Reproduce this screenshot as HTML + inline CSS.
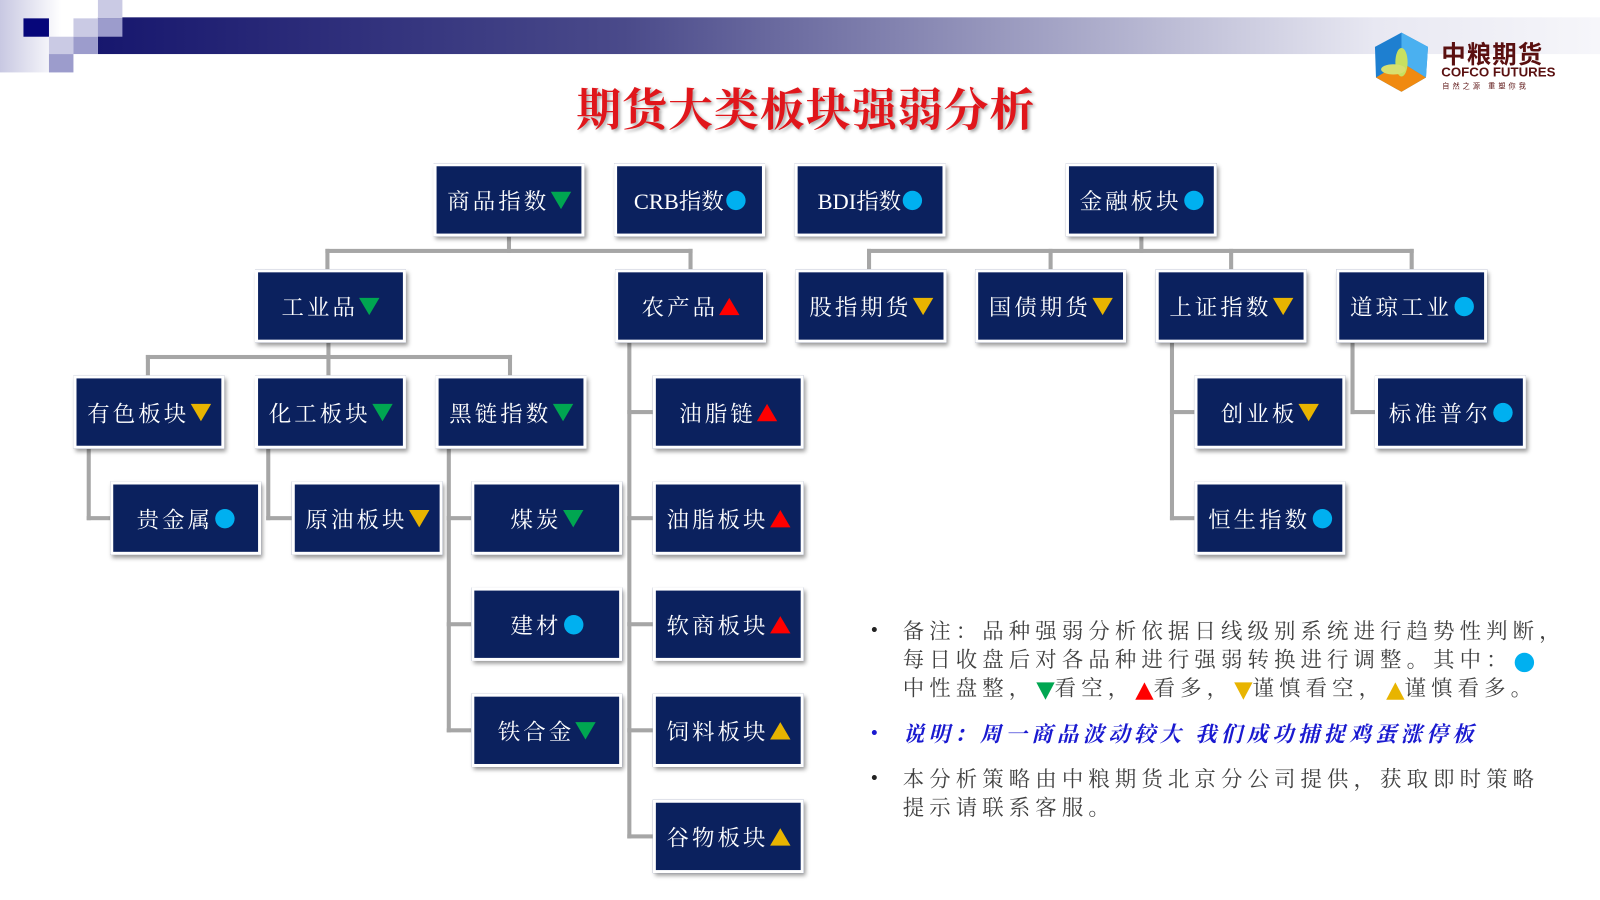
<!DOCTYPE html>
<html><head><meta charset="utf-8"><style>
body{margin:0;width:1600px;height:900px;background:#fff;position:relative;overflow:hidden;font-family:"Liberation Sans","Noto Sans CJK SC",sans-serif}
#w{position:absolute;left:0;top:0;width:1569px;height:882px;transform:scale(1.02);transform-origin:0 0}
.b{position:absolute;width:142px;height:66px;background:#0b215e;border:3px solid #fff;box-shadow:2px 3px 4px rgba(0,0,0,.4);color:#fff;font-family:"Liberation Serif","Noto Serif CJK SC",serif;font-size:22px;letter-spacing:3px;display:flex;align-items:center;justify-content:center;white-space:nowrap}
.l{position:absolute;background:#a6a6a6}
.dg,.dy,.ur,.uy{display:inline-block;width:0;height:0;border-left:10px solid transparent;border-right:10px solid transparent;margin-left:1px;vertical-align:middle}
.dg{border-top:17px solid #00a651}.dy{border-top:17px solid #e8b400}
.ur{border-bottom:17px solid #ff0000}.uy{border-bottom:17px solid #e8b400}
.c{display:inline-block;width:19px;height:19px;border-radius:50%;background:#00b0f0;margin-left:2px;vertical-align:middle}
.t{position:absolute;left:885px;font-size:21px;letter-spacing:5px;color:#404040;white-space:nowrap;line-height:28px;font-family:"Liberation Serif","Noto Serif CJK SC",serif}
.dot{position:absolute;left:854px;font-size:18px;color:#222}
.t .dg,.t .dy,.t .ur,.t .uy{border-left-width:9px;border-right-width:9px}
</style></head><body><div id="w">
<div style="position:absolute;left:0;top:0;width:60px;height:71px;background:linear-gradient(90deg,#c8c8e2,#fff)"></div>
<div style="position:absolute;left:96px;top:17px;width:1473px;height:36px;background:linear-gradient(90deg,#17176e 0%,#4a4a8a 35%,#a8a8c8 65%,#e8e8f2 85%,#f6f6fa 100%)"></div>
<div style="position:absolute;left:23px;top:18px;width:25px;height:18px;background:#06067a"></div>
<div style="position:absolute;left:96px;top:0;width:24px;height:18px;background:#cacae4"></div>
<div style="position:absolute;left:72px;top:18px;width:24px;height:18px;background:#cacae4"></div>
<div style="position:absolute;left:96px;top:18px;width:24px;height:18px;background:#9c9ccc"></div>
<div style="position:absolute;left:48px;top:36px;width:24px;height:17px;background:#cacae4"></div>
<div style="position:absolute;left:72px;top:36px;width:24px;height:17px;background:#9c9ccc"></div>
<div style="position:absolute;left:48px;top:53px;width:24px;height:18px;background:#9c9ccc"></div>
<svg style="position:absolute;left:1344px;top:30px" width="60" height="62" viewBox="0 0 60 62"><polygon points="30,2 56,16 54,46 30,60 5,46 4,16" fill="#1e7fd0"/><polygon points="30,31 54,46 30,60 5,46" fill="#f08a10"/><polygon points="30,31 30,2 56,16 54,46" fill="#4ab0f0"/><ellipse cx="30" cy="31" rx="6" ry="14" fill="#c8e060"/><ellipse cx="22" cy="38" rx="12" ry="5" fill="#d8e070"/></svg>
<div style="position:absolute;left:1413px;top:34px;font-size:24px;font-weight:bold;color:#5a1010;letter-spacing:1px">中粮期货</div>
<div style="position:absolute;left:1413px;top:63px;font-size:13px;font-weight:bold;color:#5a1010">COFCO FUTURES</div>
<div style="position:absolute;left:1414px;top:80px;font-size:7px;color:#5a1010;letter-spacing:3px">自然之源 重塑你我</div>
<div style="position:absolute;left:555px;top:72px;width:470px;text-align:center;font-size:44px;font-weight:bold;color:#e0161b;letter-spacing:1px;text-shadow:2px 2px 3px rgba(0,0,0,.35);font-family:'Liberation Serif','Noto Serif CJK SC',serif">期货大类板块强弱分析</div>

<div class="l" style="left:497px;top:232px;width:4px;height:16px"></div>
<div class="l" style="left:319px;top:244px;width:360px;height:4px"></div>
<div class="l" style="left:319px;top:244px;width:4px;height:20px"></div>
<div class="l" style="left:675px;top:244px;width:4px;height:20px"></div>
<div class="l" style="left:1117px;top:232px;width:4px;height:16px"></div>
<div class="l" style="left:850px;top:244px;width:536px;height:4px"></div>
<div class="l" style="left:850px;top:244px;width:4px;height:20px"></div>
<div class="l" style="left:1028px;top:244px;width:4px;height:20px"></div>
<div class="l" style="left:1205px;top:244px;width:4px;height:20px"></div>
<div class="l" style="left:1382px;top:244px;width:4px;height:20px"></div>
<div class="l" style="left:320px;top:336px;width:4px;height:16px"></div>
<div class="l" style="left:143px;top:348px;width:359px;height:4px"></div>
<div class="l" style="left:143px;top:348px;width:4px;height:20px"></div>
<div class="l" style="left:320px;top:348px;width:4px;height:20px"></div>
<div class="l" style="left:498px;top:348px;width:4px;height:20px"></div>
<div class="l" style="left:615px;top:336px;width:4px;height:486px"></div>
<div class="l" style="left:615px;top:402px;width:25px;height:4px"></div>
<div class="l" style="left:615px;top:506px;width:25px;height:4px"></div>
<div class="l" style="left:615px;top:610px;width:25px;height:4px"></div>
<div class="l" style="left:615px;top:714px;width:25px;height:4px"></div>
<div class="l" style="left:615px;top:818px;width:25px;height:4px"></div>
<div class="l" style="left:438px;top:440px;width:4px;height:278px"></div>
<div class="l" style="left:438px;top:506px;width:24px;height:4px"></div>
<div class="l" style="left:438px;top:610px;width:24px;height:4px"></div>
<div class="l" style="left:438px;top:714px;width:24px;height:4px"></div>
<div class="l" style="left:85px;top:440px;width:4px;height:70px"></div>
<div class="l" style="left:85px;top:506px;width:23px;height:4px"></div>
<div class="l" style="left:261px;top:440px;width:4px;height:70px"></div>
<div class="l" style="left:261px;top:506px;width:25px;height:4px"></div>
<div class="l" style="left:1147px;top:336px;width:4px;height:174px"></div>
<div class="l" style="left:1147px;top:402px;width:24px;height:4px"></div>
<div class="l" style="left:1147px;top:506px;width:24px;height:4px"></div>
<div class="l" style="left:1324px;top:336px;width:4px;height:70px"></div>
<div class="l" style="left:1324px;top:402px;width:24px;height:4px"></div>

<div class="b" style="left:425px;top:160px">商品指数<span class="dg"></span></div>
<div class="b" style="left:602px;top:160px;letter-spacing:0">CRB指数<span class="c"></span></div>
<div class="b" style="left:779px;top:160px;letter-spacing:0">BDI指数<span class="c"></span></div>
<div class="b" style="left:1045px;top:160px">金融板块<span class="c"></span></div>
<div class="b" style="left:250px;top:264px">工业品<span class="dg"></span></div>
<div class="b" style="left:603px;top:264px">农产品<span class="ur"></span></div>
<div class="b" style="left:780px;top:264px">股指期货<span class="dy"></span></div>
<div class="b" style="left:956px;top:264px">国债期货<span class="dy"></span></div>
<div class="b" style="left:1133px;top:264px">上证指数<span class="dy"></span></div>
<div class="b" style="left:1310px;top:264px">道琼工业<span class="c"></span></div>
<div class="b" style="left:72px;top:368px">有色板块<span class="dy"></span></div>
<div class="b" style="left:250px;top:368px">化工板块<span class="dg"></span></div>
<div class="b" style="left:427px;top:368px">黑链指数<span class="dg"></span></div>
<div class="b" style="left:640px;top:368px">油脂链<span class="ur"></span></div>
<div class="b" style="left:1171px;top:368px">创业板<span class="dy"></span></div>
<div class="b" style="left:1348px;top:368px">标准普尔<span class="c"></span></div>
<div class="b" style="left:108px;top:472px">贵金属<span class="c"></span></div>
<div class="b" style="left:286px;top:472px">原油板块<span class="dy"></span></div>
<div class="b" style="left:462px;top:472px">煤炭<span class="dg"></span></div>
<div class="b" style="left:640px;top:472px">油脂板块<span class="ur"></span></div>
<div class="b" style="left:1171px;top:472px">恒生指数<span class="c"></span></div>
<div class="b" style="left:462px;top:576px">建材<span class="c"></span></div>
<div class="b" style="left:640px;top:576px">软商板块<span class="ur"></span></div>
<div class="b" style="left:462px;top:680px">铁合金<span class="dg"></span></div>
<div class="b" style="left:640px;top:680px">饲料板块<span class="uy"></span></div>
<div class="b" style="left:640px;top:784px">谷物板块<span class="uy"></span></div>

<div class="dot" style="top:607px">•</div>
<div class="t" style="top:605px">备注：品种强弱分析依据日线级别系统进行趋势性判断，</div>
<div class="t" style="top:633px">每日收盘后对各品种进行强弱转换进行调整。其中：<span class="c"></span></div>
<div class="t" style="top:661px">中性盘整，<span class="dg"></span>看空，<span class="ur"></span>看多，<span class="dy"></span>谨慎看空，<span class="uy"></span>谨慎看多。</div>
<div class="dot" style="top:708px;color:#1a1ad0">•</div>
<div class="t" style="top:706px;color:#1a1ad0;font-weight:bold;font-style:italic;letter-spacing:4.2px">说明：周一商品波动较大 我们成功捕捉鸡蛋涨停板</div>
<div class="dot" style="top:752px">•</div>
<div class="t" style="top:750px">本分析策略由中粮期货北京分公司提供，获取即时策略</div>
<div class="t" style="top:778px">提示请联系客服。</div>
</div></body></html>
